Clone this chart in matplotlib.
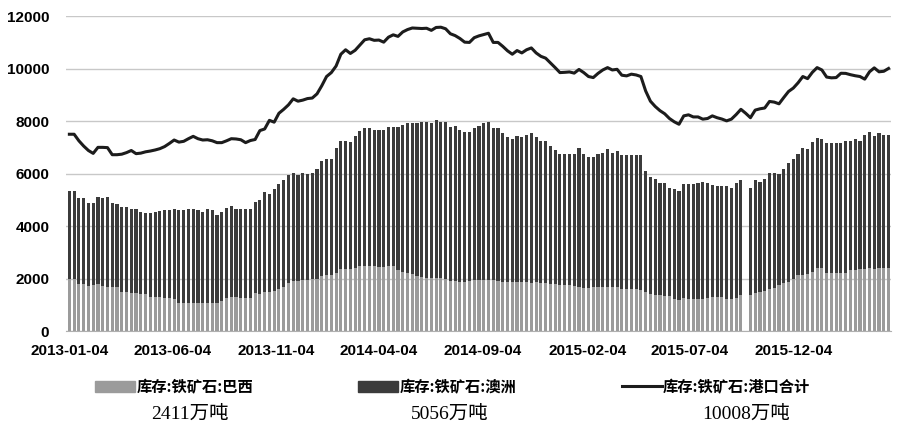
import numpy as np
import pandas as pd
import matplotlib
matplotlib.use('Agg')
import matplotlib.pyplot as plt
from matplotlib.patches import Patch
from matplotlib.lines import Line2D

# 周度数据, 2013-01-04 起
dates = pd.date_range('2013-01-04', periods=173, freq='7D')

brazil = [
    1980, 1980, 1790, 1790, 1730, 1750, 1780, 1720, 1690, 1690,
    1690, 1500, 1490, 1460, 1440, 1400, 1400, 1300, 1300, 1280,
    1270, 1240, 1210, 1080, 1080, 1070, 1070, 1060, 1060, 1060,
    1070, 1080, 1150, 1250, 1290, 1290, 1270, 1270, 1270, 1430,
    1400, 1480, 1480, 1520, 1590, 1670, 1830, 1900, 1900, 1940,
    1940, 1970, 1990, 2090, 2120, 2120, 2220, 2370, 2370, 2370,
    2410, 2470, 2470, 2470, 2470, 2450, 2450, 2470, 2470, 2320,
    2260, 2200, 2160, 2100, 2060, 2030, 2030, 2010, 2010, 2000,
    1900, 1900, 1870, 1870, 1900, 1940, 1940, 1940, 1940, 1940,
    1900, 1870, 1870, 1870, 1870, 1870, 1870, 1840, 1870, 1840,
    1840, 1800, 1780, 1750, 1740, 1740, 1720, 1690, 1650, 1650,
    1670, 1670, 1670, 1670, 1670, 1670, 1590, 1610, 1610, 1610,
    1550, 1500, 1400, 1380, 1380, 1330, 1330, 1230, 1180, 1270,
    1230, 1230, 1230, 1230, 1270, 1310, 1310, 1280, 1230, 1210,
    1270, 1360, np.nan, 1360, 1460, 1490, 1520, 1590, 1650, 1740,
    1840, 1870, 1990, 2120, 2130, 2160, 2250, 2410, 2410, 2220,
    2220, 2220, 2220, 2200, 2310, 2310, 2350, 2350, 2410, 2350,
    2390, 2390, 2411,
]

australia = [
    3360, 3360, 3270, 3270, 3160, 3140, 3330, 3340, 3420, 3200,
    3140, 3220, 3230, 3180, 3220, 3150, 3080, 3180, 3250, 3290,
    3330, 3360, 3450, 3520, 3520, 3590, 3570, 3540, 3490, 3600,
    3530, 3340, 3400, 3420, 3470, 3370, 3390, 3390, 3390, 3500,
    3590, 3820, 3750, 3880, 4000, 4080, 4110, 4130, 4040, 4090,
    4050, 4060, 4170, 4390, 4420, 4420, 4770, 4870, 4870, 4830,
    5020, 5150, 5280, 5250, 5190, 5230, 5210, 5320, 5320, 5470,
    5580, 5710, 5750, 5840, 5900, 5930, 5880, 6020, 5950, 5960,
    5890, 5910, 5790, 5730, 5700, 5810, 5870, 5970, 6020, 5810,
    5820, 5660, 5530, 5460, 5560, 5520, 5620, 5690, 5530, 5420,
    5420, 5270, 5120, 4980, 4990, 4990, 5010, 5270, 5080, 4980,
    4970, 5060, 5130, 5250, 5130, 5190, 5100, 5080, 5080, 5080,
    5140, 4600, 4480, 4400, 4270, 4320, 4130, 4170, 4150, 4320,
    4360, 4360, 4420, 4450, 4360, 4250, 4220, 4250, 4300, 4250,
    4360, 4390, np.nan, 4100, 4290, 4200, 4280, 4440, 4380, 4250,
    4320, 4520, 4580, 4640, 4860, 4760, 4950, 4960, 4920, 4960,
    4960, 4960, 4960, 5040, 4950, 5020, 4910, 5140, 5190, 5080,
    5140, 5100, 5056,
]

port_total = [
    7500, 7500, 7250, 7050, 6880, 6770, 7000, 7000, 6990, 6720,
    6720, 6740, 6800, 6880, 6760, 6780, 6830, 6860, 6900, 6950,
    7030, 7150, 7280, 7200, 7230, 7330, 7420, 7330, 7280, 7290,
    7250, 7180, 7180, 7250, 7330, 7320, 7290, 7180, 7260, 7300,
    7640, 7700, 8030, 7960, 8300, 8450, 8620, 8850, 8760, 8800,
    8860, 8880, 9040, 9350, 9700, 9850, 10100, 10550, 10720, 10580,
    10700, 10900, 11100, 11140, 11080, 11090, 11010, 11200, 11290, 11230,
    11400, 11490, 11550, 11540, 11530, 11540, 11460, 11570, 11580, 11520,
    11330, 11260, 11150, 11010, 11000, 11180, 11250, 11300, 11350, 11000,
    11000, 10850, 10680, 10550, 10690, 10600, 10720, 10790, 10600, 10470,
    10400, 10220, 10040, 9850, 9860, 9875, 9830, 9970, 9850, 9700,
    9660, 9820, 9950, 10040, 9950, 9975, 9750, 9725, 9790, 9760,
    9700, 9150, 8760, 8560, 8400, 8280, 8100, 7975, 7880, 8200,
    8240, 8160, 8160, 8075, 8100, 8200, 8130, 8080, 8010, 8075,
    8250, 8450, 8300, 8130, 8420, 8470, 8500, 8750, 8725, 8660,
    8900, 9130, 9260, 9460, 9700, 9620, 9860, 10040, 9950, 9680,
    9650, 9660, 9825, 9820, 9770, 9730, 9700, 9600, 9880, 10030,
    9880, 9900, 10008,
]

tick_labels = ['2013-01-04', '2013-06-04', '2013-11-04', '2014-04-04',
               '2014-09-04', '2015-02-04', '2015-07-04', '2015-12-04']
names = ['库存:铁矿石:巴西', '库存:铁矿石:澳洲', '库存:铁矿石:港口合计']
latest = ['2411万吨', '5056万吨', '10008万吨']

c_brazil = '#9b9b9b'
c_aus = '#3b3b3b'
c_line = '#1c1c1c'

fig = plt.figure(figsize=(9, 4.26), dpi=100)
ax = fig.add_axes([0.0733, 0.223, 0.917, 0.739])

br = np.array(brazil, dtype=float)
au = np.array(australia, dtype=float)

ax.bar(dates, br, width=4.6, color=c_brazil, zorder=2)
ax.bar(dates, au, width=4.6, bottom=br, color=c_aus, zorder=2)
ax.plot(dates, port_total, color=c_line, lw=2.2, zorder=3)

ax.set_ylim(0, 12000)
ax.set_yticks(range(0, 12001, 2000))
ax.set_xlim(dates[0] - pd.Timedelta(days=5), dates[-1] + pd.Timedelta(days=4))
ax.set_xticks(pd.to_datetime(tick_labels))
ax.set_xticklabels(tick_labels)

ax.grid(axis='y', color='#c8c8c8', lw=1.0, zorder=0)
for s in ['top', 'right', 'left']:
    ax.spines[s].set_visible(False)
ax.spines['bottom'].set_color('#b0b0b0')
ax.tick_params(length=0)
ax.tick_params(axis='y', pad=12)
ax.tick_params(axis='x', pad=9)
for lab in ax.get_xticklabels() + ax.get_yticklabels():
    lab.set_fontfamily(['Liberation Sans Narrow', 'Liberation Sans'])
    lab.set_fontweight('bold')
    lab.set_fontsize(11)

handles = [Patch(color=c_brazil), Patch(color=c_aus),
           Line2D([], [], color=c_line, lw=2.2)]
fig.legend(handles, names, loc='center', bbox_to_anchor=(0.503, 0.092),
           ncol=3, frameon=False, handlelength=2.6, handleheight=0.75,
           handletextpad=0.1, columnspacing=6.9,
           prop={'family': ['Noto Sans CJK SC', 'DejaVu Sans'], 'size': 11,
                 'weight': 'bold'})

for xpx, txt in zip([190, 450, 746], latest):
    fig.text(xpx / 900, 1 - 414 / 426, txt, ha='center', va='center',
             fontsize=14, family=['Liberation Serif', 'Noto Sans CJK SC'])

fig.savefig('out.png', dpi=100)
